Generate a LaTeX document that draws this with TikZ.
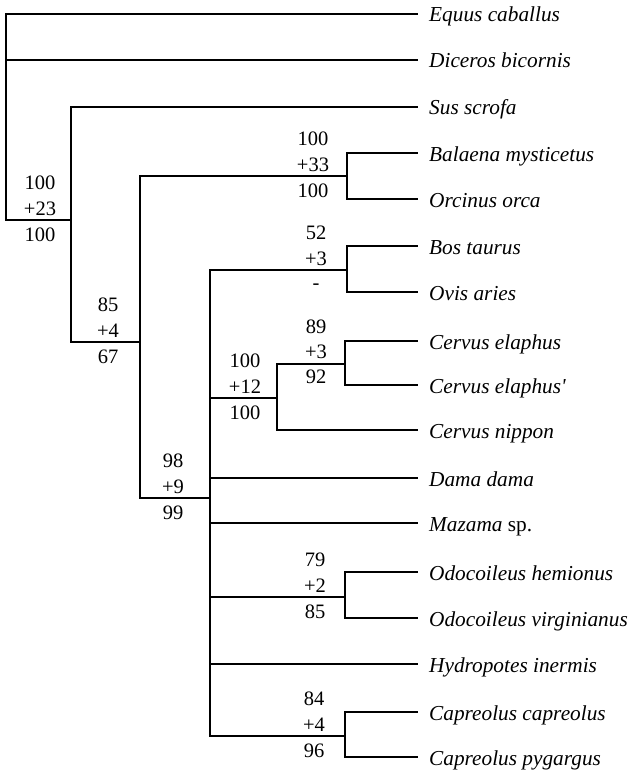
\documentclass[tikz,border=0pt]{standalone}
\usepackage{fontspec}
\setmainfont{Liberation Serif}
\tikzset{
  branch/.style={line width=2.8pt, line join=miter},
  taxon/.style={anchor=base west, inner sep=0pt, font=\fontsize{21.3}{24}\selectfont\itshape},
  supp/.style={inner sep=0pt, anchor=center, font=\fontsize{20.5}{24}\selectfont}
}
\begin{document}
\begin{tikzpicture}[x=1pt,y=-1pt]
\useasboundingbox (0,0) rectangle (633,770);
% internal nodes
\coordinate (root) at (6,117);
\coordinate (nA) at (71,220);
\coordinate (nB) at (140,342);
\coordinate (nC) at (347,176);
\coordinate (nD) at (210,498);
\coordinate (nE) at (347,270);
\coordinate (nF) at (277,398);
\coordinate (nG) at (345,364);
\coordinate (nH) at (345,597);
\coordinate (nI) at (345,736);
% tip ends
\coordinate (e0) at (418,14);
\coordinate (e1) at (418,60);
\coordinate (e2) at (418,107);
\coordinate (e3) at (418,153);
\coordinate (e4) at (418,199);
\coordinate (e5) at (418,246);
\coordinate (e6) at (418,292);
\coordinate (e7) at (418,341);
\coordinate (e8) at (418,385);
\coordinate (e9) at (418,430);
\coordinate (e10) at (418,478);
\coordinate (e11) at (418,523);
\coordinate (e12) at (418,572);
\coordinate (e13) at (418,618);
\coordinate (e14) at (418,664);
\coordinate (e15) at (418,712);
\coordinate (e16) at (418,757);
% taxa
\node[taxon] (s0) at (429,22) {Equus caballus};
\node[taxon] (s1) at (429,68) {Diceros bicornis};
\node[taxon] (s2) at (429,115) {Sus scrofa};
\node[taxon] (s3) at (429,161) {Balaena mysticetus};
\node[taxon] (s4) at (429,207) {Orcinus orca};
\node[taxon] (s5) at (429,254) {Bos taurus};
\node[taxon] (s6) at (429,300) {Ovis aries};
\node[taxon] (s7) at (429,349) {Cervus elaphus};
\node[taxon] (s8) at (429,393) {Cervus elaphus\textquotesingle};
\node[taxon] (s9) at (429,438) {Cervus nippon};
\node[taxon] (s10) at (429,486) {Dama dama};
\node[taxon] (s11) at (429,531) {Mazama {\upshape sp.}};
\node[taxon] (s12) at (429,580) {Odocoileus hemionus};
\node[taxon] (s13) at (429,626) {Odocoileus virginianus};
\node[taxon] (s14) at (429,672) {Hydropotes inermis};
\node[taxon] (s15) at (429,720) {Capreolus capreolus};
\node[taxon] (s16) at (429,765) {Capreolus pygargus};
% branches
\draw[branch] (root) |- (e0);
\draw[branch] (root) |- (e1);
\draw[branch] (root) |- (nA);
\draw[branch] (nA) |- (e2);
\draw[branch] (nA) |- (nB);
\draw[branch] (nB) |- (nC);
\draw[branch] (nB) |- (nD);
\draw[branch] (nC) |- (e3);
\draw[branch] (nC) |- (e4);
\draw[branch] (nD) |- (nE);
\draw[branch] (nD) |- (nF);
\draw[branch] (nD) |- (e10);
\draw[branch] (nD) |- (e11);
\draw[branch] (nD) |- (nH);
\draw[branch] (nD) |- (e14);
\draw[branch] (nD) |- (nI);
\draw[branch] (nE) |- (e5);
\draw[branch] (nE) |- (e6);
\draw[branch] (nF) |- (nG);
\draw[branch] (nF) |- (e9);
\draw[branch] (nG) |- (e7);
\draw[branch] (nG) |- (e8);
\draw[branch] (nH) |- (e12);
\draw[branch] (nH) |- (e13);
\draw[branch] (nI) |- (e15);
\draw[branch] (nI) |- (e16);
% support values
\node[supp] (lr1) at (40,183) {100};
\node[supp] (lr2) at (40,209) {+23};
\node[supp] (lr3) at (40,235) {100};
\node[supp] (la1) at (108,305) {85};
\node[supp] (la2) at (108,331) {+4};
\node[supp] (la3) at (108,357) {67};
\node[supp] (lb1) at (173,461) {98};
\node[supp] (lb2) at (173,487) {+9};
\node[supp] (lb3) at (173,513) {99};
\node[supp] (lc1) at (313,139) {100};
\node[supp] (lc2) at (313,165) {+33};
\node[supp] (lc3) at (313,191) {100};
\node[supp] (le1) at (316,233) {52};
\node[supp] (le2) at (316,259) {+3};
\node[supp] (le3) at (316,287) {-};
\node[supp] (lf1) at (245,361) {100};
\node[supp] (lf2) at (245,387) {+12};
\node[supp] (lf3) at (245,413) {100};
\node[supp] (lg1) at (316,327) {89};
\node[supp] (lg2) at (316,352) {+3};
\node[supp] (lg3) at (316,377) {92};
\node[supp] (lh1) at (315,560) {79};
\node[supp] (lh2) at (315,586) {+2};
\node[supp] (lh3) at (315,612) {85};
\node[supp] (li1) at (314,699) {84};
\node[supp] (li2) at (314,725) {+4};
\node[supp] (li3) at (314,751) {96};
\end{tikzpicture}
\end{document}
